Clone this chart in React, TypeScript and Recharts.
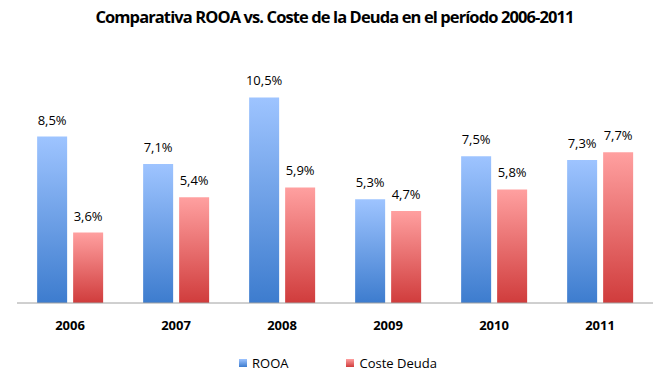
import { Bar, BarChart, LabelList, XAxis, YAxis } from 'recharts'

const years = ['2006', '2007', '2008', '2009', '2010', '2011']
const rooa = [8.5, 7.1, 10.5, 5.3, 7.5, 7.3]
const costeDeuda = [3.6, 5.4, 5.9, 4.7, 5.8, 7.7]

const data = years.map((year, i) => ({
  year,
  rooa: rooa[i],
  coste: costeDeuda[i]
}))

const font = 'Open Sans, Noto Sans, sans-serif'

const pct = (v: any) => String(v).replace('.', ',') + '%'

export default function App() {
  return (
    <div style={{ position: 'relative', width: 669, height: 392, margin: -8, background: '#fff', fontFamily: font }}>
      <div
        style={{
          position: 'absolute',
          top: 5,
          left: 0,
          width: 669,
          textAlign: 'center',
          fontSize: 16.5,
          fontWeight: 700,
          color: '#000',
          letterSpacing: -0.9
        }}
      >
        Comparativa ROOA vs. Coste de la Deuda en el período 2006-2011
      </div>
      <BarChart
        width={669}
        height={392}
        data={data}
        margin={{ top: 68, right: 16, bottom: 59, left: 17 }}
        barCategoryGap='19%'
        barGap={6}
      >
        <defs>
          <linearGradient id='gradRooa' x1='0' y1='0' x2='0' y2='1'>
            <stop offset='0%' stopColor='#9ec4ff' />
            <stop offset='100%' stopColor='#3d7cce' />
          </linearGradient>
          <linearGradient id='gradCoste' x1='0' y1='0' x2='0' y2='1'>
            <stop offset='0%' stopColor='#ffa0a0' />
            <stop offset='100%' stopColor='#d03c3c' />
          </linearGradient>
        </defs>
        <XAxis
          dataKey='year'
          height={30}
          tickLine={false}
          axisLine={{ stroke: '#a0a0a0' }}
          tick={{ fill: '#000', fontSize: 13, fontWeight: 700, fontFamily: font }}
          tickMargin={12}
        />
        <YAxis hide domain={[0, 12]} />
        <Bar dataKey='rooa' fill='url(#gradRooa)' isAnimationActive={false}>
          <LabelList
            dataKey='rooa'
            position='top'
            offset={12}
            formatter={pct}
            style={{ fill: '#000', fontSize: 13, fontFamily: font }}
          />
        </Bar>
        <Bar dataKey='coste' fill='url(#gradCoste)' isAnimationActive={false}>
          <LabelList
            dataKey='coste'
            position='top'
            offset={12}
            formatter={pct}
            style={{ fill: '#000', fontSize: 13, fontFamily: font }}
          />
        </Bar>
      </BarChart>
      <div style={{ position: 'absolute', top: 354, left: 239, fontSize: 13, color: '#000', display: 'flex', alignItems: 'center' }}>
        <span style={{ display: 'inline-block', width: 8, height: 8, background: 'linear-gradient(#9ec4ff, #3d7cce)', marginRight: 5 }} />
        <span>ROOA</span>
        <span style={{ display: 'inline-block', width: 8, height: 8, background: 'linear-gradient(#ffa0a0, #d03c3c)', marginLeft: 58, marginRight: 5 }} />
        <span>Coste Deuda</span>
      </div>
    </div>
  )
}
